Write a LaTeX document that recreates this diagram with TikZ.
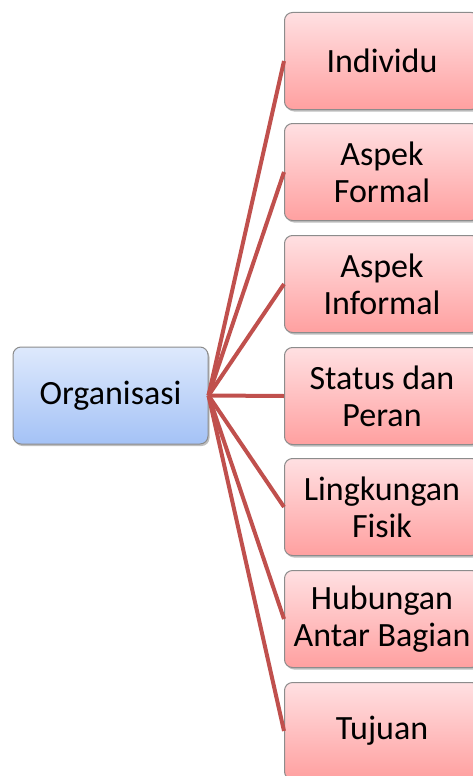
\documentclass[tikz,border=0pt]{standalone}
\usepackage{fontspec}
\setmainfont{Carlito}
\usetikzlibrary{shadows}
\definecolor{linered}{RGB}{192,80,77}
\definecolor{boxedge}{RGB}{140,140,140}
\definecolor{bluetop}{RGB}{222,233,252}
\definecolor{bluebot}{RGB}{164,194,246}
\definecolor{pinktop}{RGB}{255,224,226}
\definecolor{pinkbot}{RGB}{255,160,160}
\tikzset{
  box/.style={draw=boxedge, line width=1pt, rounded corners=8pt, minimum width=195pt, minimum height=97pt,
    inner sep=0pt, align=center, font=\fontsize{34}{37}\selectfont, text=black,
    drop shadow={shadow xshift=1.5pt, shadow yshift=-2pt, opacity=0.25, fill=black}},
  bluebox/.style={box, top color=bluetop, bottom color=bluebot},
  pinkbox/.style={box, top color=pinktop, bottom color=pinkbot},
  link/.style={draw=linered, line width=4pt}
}
\begin{document}
\begin{tikzpicture}[x=1pt,y=-1pt]
\useasboundingbox (0,0) rectangle (473,776);
\begin{scope}
\clip (0,0) rectangle (473,776);
\node[bluebox] (org) at (110.5,395.5) {Organisasi};
\node[pinkbox] (b1) at (382,61) {Individu};
\node[pinkbox] (b2) at (382,172) {Aspek\\Formal};
\node[pinkbox] (b3) at (382,284) {Aspek\\Informal};
\node[pinkbox] (b4) at (382,396) {Status dan\\Peran};
\node[pinkbox] (b5) at (382,507) {Lingkungan\\Fisik};
\node[pinkbox] (b6) at (382,619) {Hubungan\\Antar Bagian};
\node[pinkbox] (b7) at (382,731) {Tujuan};
\foreach \i in {1,...,7} {
  \draw[link] (org.east) -- (b\i.west);
}
\end{scope}
\end{tikzpicture}
\end{document}
